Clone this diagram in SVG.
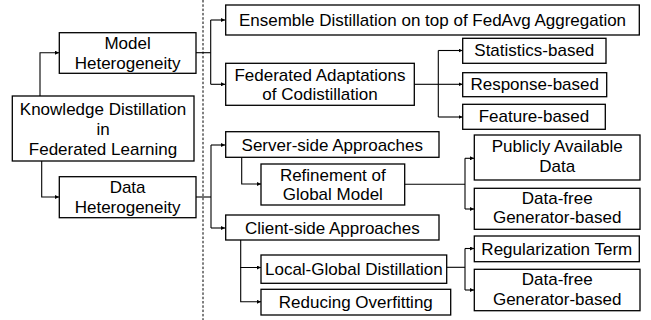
<svg xmlns="http://www.w3.org/2000/svg" width="651" height="320" viewBox="0 0 651 320">
<defs>
<marker id="ah" markerWidth="4" markerHeight="4" refX="4" refY="2" orient="auto" markerUnits="userSpaceOnUse">
<path d="M0,0 L4,2 L0,4 Z" fill="#000"/>
</marker>
<style>
.box{fill:#fff;stroke:#000;stroke-width:1.3}
.t{font-family:"Liberation Sans",Arial,sans-serif;font-size:17px;fill:#000;text-anchor:middle}
.c{fill:none;stroke:#000;stroke-width:1.1}
.a{marker-end:url(#ah)}
.dash{stroke:#000;stroke-width:1;stroke-dasharray:2.5,1.8}
</style>
</defs>
<rect width="651" height="320" fill="#fff"/>
<line class="dash" x1="203" y1="0" x2="203" y2="320"/>
<g id="connectors">
<path class="c a" d="M40,96 V52.7 H59"/>
<path class="c a" d="M41.7,161 V197 H59"/>
<path class="c" d="M196,52.7 H210.7"/>
<path class="c" d="M210.7,20 V84.3"/>
<path class="c a" d="M210.7,20 H225"/>
<path class="c a" d="M210.7,84.3 H225"/>
<path class="c" d="M414,84.3 H438.3"/>
<path class="c" d="M438.3,50.5 V117"/>
<path class="c a" d="M438.3,50.5 H462.5"/>
<path class="c a" d="M438.3,84.3 H462.5"/>
<path class="c a" d="M438.3,117 H462.5"/>
<path class="c" d="M196,197 H211"/>
<path class="c" d="M211,145 V228"/>
<path class="c a" d="M211,145 H225"/>
<path class="c a" d="M211,228 H225"/>
<path class="c a" d="M241.7,157 V184 H261"/>
<path class="c" d="M405,184.3 H465"/>
<path class="c" d="M465,158.3 V209"/>
<path class="c a" d="M465,158.3 H474"/>
<path class="c a" d="M465,209 H474"/>
<path class="c a" d="M240.7,240 V267.5 H261"/>
<path class="c a" d="M240.7,267 V301.8 H261"/>
<path class="c" d="M447,267.3 H465"/>
<path class="c" d="M465,248.5 V290"/>
<path class="c a" d="M465,248.5 H474"/>
<path class="c a" d="M465,290 H474"/>
</g>
<g id="kd">
<rect class="box" x="12.3" y="96" width="181.7" height="65"/>
<text class="t" x="103" y="115">Knowledge Distillation</text>
<text class="t" x="103" y="135">in</text>
<text class="t" x="103" y="155">Federated Learning</text>
</g>
<g id="model-het">
<rect class="box" x="59.3" y="32.7" width="136.7" height="40.6"/>
<text class="t" x="127.6" y="49.3">Model</text>
<text class="t" x="127.6" y="68.5">Heterogeneity</text>
</g>
<g id="data-het">
<rect class="box" x="59.3" y="176.7" width="136.7" height="41"/>
<text class="t" x="127.6" y="193.3">Data</text>
<text class="t" x="127.6" y="213">Heterogeneity</text>
</g>
<g id="ensemble">
<rect class="box" x="225.7" y="5" width="413.6" height="30"/>
<text class="t" x="432.5" y="26.3">Ensemble Distillation on top of FedAvg Aggregation</text>
</g>
<g id="fed-adapt">
<rect class="box" x="225.7" y="63.3" width="188.6" height="42"/>
<text class="t" x="320" y="81">Federated Adaptations</text>
<text class="t" x="320" y="100.3">of Codistillation</text>
</g>
<g id="statistics">
<rect class="box" x="462.7" y="38.3" width="143.3" height="25"/>
<text class="t" x="534.3" y="56.3">Statistics-based</text>
</g>
<g id="response">
<rect class="box" x="462.7" y="72.7" width="144" height="24"/>
<text class="t" x="534.7" y="89.7">Response-based</text>
</g>
<g id="feature">
<rect class="box" x="462.7" y="104.3" width="142.6" height="25"/>
<text class="t" x="534" y="122">Feature-based</text>
</g>
<g id="server-side">
<rect class="box" x="225.7" y="131.7" width="213.3" height="25.6"/>
<text class="t" x="332.3" y="151">Server-side Approaches</text>
</g>
<g id="refinement">
<rect class="box" x="261" y="164" width="143.7" height="41"/>
<text class="t" x="332.8" y="181">Refinement of</text>
<text class="t" x="332.8" y="200.3">Global Model</text>
</g>
<g id="public-data">
<rect class="box" x="474.3" y="135" width="165.7" height="45"/>
<text class="t" x="557.2" y="152">Publicly Available</text>
<text class="t" x="557.2" y="171.7">Data</text>
</g>
<g id="datafree-1">
<rect class="box" x="474.3" y="188.3" width="165.7" height="41"/>
<text class="t" x="557.2" y="203.5">Data-free</text>
<text class="t" x="557.2" y="223">Generator-based</text>
</g>
<g id="client-side">
<rect class="box" x="225.7" y="215" width="213.3" height="25"/>
<text class="t" x="332.3" y="234">Client-side Approaches</text>
</g>
<g id="local-global">
<rect class="box" x="261" y="255" width="185.7" height="28.3"/>
<text class="t" x="353.8" y="275">Local-Global Distillation</text>
</g>
<g id="overfitting">
<rect class="box" x="261" y="289.3" width="189.7" height="25.7"/>
<text class="t" x="355.8" y="307.5">Reducing Overfitting</text>
</g>
<g id="regularization">
<rect class="box" x="474.3" y="236" width="165" height="25.7"/>
<text class="t" x="556.8" y="255">Regularization Term</text>
</g>
<g id="datafree-2">
<rect class="box" x="474.3" y="269.3" width="165.7" height="41.4"/>
<text class="t" x="557.2" y="285.3">Data-free</text>
<text class="t" x="557.2" y="305">Generator-based</text>
</g>
</svg>
